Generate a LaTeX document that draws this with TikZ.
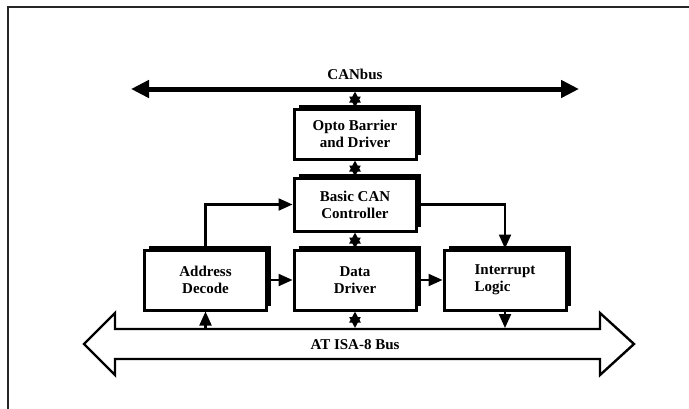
\documentclass[tikz,border=0pt]{standalone}
\usepackage{fontspec}
\setmainfont{Liberation Serif}
\usetikzlibrary{arrows.meta,shadows}
\tikzset{
  blk/.style={draw, line width=3pt, fill=white, minimum width=#1, minimum height=60pt,
    inner sep=0pt, font=\fontsize{15}{17}\selectfont\bfseries, align=center,
    general shadow={fill=black, shadow xshift=4.5pt, shadow yshift=4.5pt}},
  blk/.default=122pt,
  conn/.style={line width=2.2pt, -{Triangle[length=14pt,width=12pt]}},
  bidir/.style={line width=2.2pt, {Triangle[length=11pt,width=11pt]}-{Triangle[length=11pt,width=11pt]}},
  lbl/.style={font=\fontsize{15}{17}\selectfont\bfseries, inner sep=0pt},
  frame/.style={line width=1.5pt, black!85}
}
\begin{document}
\begin{tikzpicture}[x=1pt,y=-1pt]
\useasboundingbox (0,0) rectangle (689,408);
\draw[frame] (8,410) -- (8,7) -- (692,7);

% CANbus
\coordinate (canL) at (131,89);
\coordinate (canR) at (579,89);
\draw[line width=5pt, {Triangle[length=18pt,width=17pt]}-{Triangle[length=18pt,width=17pt]}] (canL) -- (canR);
\node[lbl] (canlbl) at (355,74) {CANbus};
\coordinate (canT) at (355,91.5);

% blocks
\node[blk, minimum height=50pt] (opto) at (355,134) {Opto Barrier\\and Driver};
\node[blk, minimum height=53pt] (can) at (355,204.5) {Basic CAN\\Controller};
\node[blk] (addr) at (205.5,280) {Address\\Decode};
\node[blk] (data) at (355,280) {Data\\Driver};
\node[blk, align=left] (intr) at (505,280) {Interrupt\\Logic};

% ISA bus
\draw[line width=2.4pt, line join=miter] (84,344) -- (115,313) -- (115,329) -- (600,329) -- (600,313) -- (634,344)
  -- (600,375) -- (600,359) -- (115,359) -- (115,375) -- cycle;
\node[lbl] (isalbl) at (355,345) {AT ISA-8 Bus};
\coordinate (isaA) at (205.5,328);
\coordinate (isaD) at (355,328);
\coordinate (isaI) at (505,328);

% connectors
\draw[bidir] (canT) -- (opto.north);
\draw[bidir] (opto.south) -- (can.north);
\draw[bidir] (can.south) -- (data.north);
\draw[conn] (addr.north) |- (can.west);
\draw[conn] (can.east) -| (intr.north);
\draw[conn] (addr.east) -- (data.west);
\draw[conn] (data.east) -- (intr.west);
\draw[conn] (isaA) -- (addr.south);
\draw[bidir] (data.south) -- (isaD);
\draw[conn] (intr.south) -- (isaI);
\end{tikzpicture}
\end{document}
